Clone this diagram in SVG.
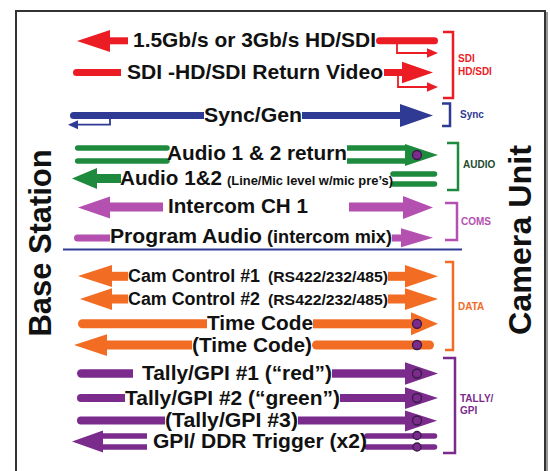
<svg xmlns="http://www.w3.org/2000/svg" width="550" height="471" viewBox="0 0 550 471">
<style>
.t{font-family:"Liberation Sans",Arial,Helvetica,sans-serif;font-weight:bold;fill:#111}
.b{font-size:21px}
.s{font-size:10px}
.v{font-size:31px}
.red{fill:#ec1c24}.redS{stroke:#ec1c24}
.blu{fill:#2e3a94}.bluS{stroke:#2e3a94}
.grn{fill:#1d8a3e}.grnS{stroke:#1d8a3e}
.mag{fill:#b450b0}.magS{stroke:#b450b0}
.org{fill:#f26c24}.orgS{stroke:#f26c24}
.pur{fill:#7a2b8c}.purS{stroke:#7a2b8c}
.thin{fill:none;stroke-width:1.8}
.dbl{fill:none;stroke-width:5.5}
.br{fill:none;stroke-width:2.5}
.dot{fill:#7a2b8c;stroke:#3a1a48;stroke-width:1.3}
</style>
<rect width="550" height="471" fill="#fff"/>
<g id="frame">
<path d="M16,471 V11 H545 V471" fill="none" stroke="#333" stroke-width="2"/>
<line x1="547" y1="12" x2="547" y2="471" stroke="#777" stroke-width="1.5"/>
</g>
<g id="base-station"><text class="t v" transform="translate(51,243) rotate(-90)" text-anchor="middle" textLength="187" lengthAdjust="spacingAndGlyphs">Base Station</text></g>
<g id="camera-unit"><text class="t v" transform="translate(531,240) rotate(-90)" text-anchor="middle" textLength="190" lengthAdjust="spacingAndGlyphs">Camera Unit</text></g>

<g id="connectors">
 <g id="c-sdi1">
  <polygon class="red" points="77,41 110,30 110,52"/>
  <rect class="red" x="109" y="37.3" width="19" height="7"/>
  <rect class="red" x="376" y="37.3" width="62" height="7" rx="3.5"/>
  <polyline class="thin redS" points="397,44 397,53 428,53"/>
  <polygon class="red" points="438,53 427,48.3 427,57.7"/>
 </g>
 <g id="c-sdi2">
  <path class="red" d="M121,69 H76.5 A3.5,3.5 0 0 0 76.5,76 H121 Z"/>
  <rect class="red" x="384" y="69" width="19" height="7"/>
  <polygon class="red" points="433,72.5 402,61.7 402,83.3"/>
  <polyline class="thin redS" points="398,76 398,87 428,87"/>
  <polygon class="red" points="438,87 427,82.2 427,91.8"/>
 </g>
 <g id="c-sync">
  <path class="blu" d="M204,112 H73.5 A3.5,3.5 0 0 0 73.5,119 H204 Z"/>
  <polyline class="thin bluS" points="110,119 110,124.6 77,124.6"/>
  <polygon class="blu" points="68,124.8 78,120.3 78,129.3"/>
  <rect class="blu" x="302" y="112" width="99" height="7"/>
  <polygon class="blu" points="433,115.5 400,104 400,127"/>
 </g>
 <g id="c-audio1">
  <line class="dbl grnS" x1="77.7" y1="148" x2="167" y2="148" stroke-linecap="round"/>
  <line class="dbl grnS" x1="77.7" y1="161" x2="167" y2="161" stroke-linecap="round"/>
  <line class="dbl grnS" x1="347" y1="148" x2="407" y2="148"/>
  <line class="dbl grnS" x1="347" y1="161" x2="407" y2="161"/>
  <polygon class="grn" points="438,155 405,144 405,166"/>
  <circle class="dot" cx="417" cy="155" r="4.5"/>
 </g>
 <g id="c-audio2">
  <polygon class="grn" points="72,178.5 97,168 97,189"/>
  <rect class="grn" x="96" y="174" width="25" height="9"/>
  <line class="dbl grnS" x1="393" y1="174" x2="434.5" y2="174" stroke-width="5" stroke-linecap="round"/>
  <line class="dbl grnS" x1="393" y1="184" x2="434.5" y2="184" stroke-width="5" stroke-linecap="round"/>
 </g>
 <g id="c-intercom">
  <polygon class="mag" points="78,207.5 110,196.5 110,218.5"/>
  <rect class="mag" x="109" y="202.5" width="54" height="9"/>
  <rect class="mag" x="349" y="202.5" width="55" height="9"/>
  <polygon class="mag" points="433,207.5 403,196 403,219"/>
 </g>
 <g id="c-program">
  <path class="mag" d="M110,234.5 H77.5 A3.5,3.5 0 0 0 77.5,241.5 H110 Z"/>
  <rect class="mag" x="392" y="234.5" width="10" height="7"/>
  <polygon class="mag" points="433,237.8 401,228.3 401,247.3"/>
 </g>
 <line id="divider" x1="63" y1="249.5" x2="462" y2="249.5" stroke="#2e3a94" stroke-width="2"/>
 <g id="c-cam1">
  <polygon class="org" points="78,276 112,265 112,287"/>
  <rect class="org" x="111" y="271.8" width="17" height="9"/>
  <rect class="org" x="388" y="271.8" width="18" height="9"/>
  <polygon class="org" points="438,276.3 405,265 405,287.5"/>
 </g>
 <g id="c-cam2">
  <polygon class="org" points="80,299 112,288.3 112,310"/>
  <rect class="org" x="111" y="294.5" width="17" height="9"/>
  <rect class="org" x="388" y="294.5" width="18" height="9"/>
  <polygon class="org" points="438,299 405,288.3 405,310"/>
 </g>
 <g id="c-tc1">
  <path class="org" d="M207,319.3 H82.5 A4.5,4.5 0 0 0 82.5,328.3 H207 Z"/>
  <rect class="org" x="313" y="319.3" width="100" height="9"/>
  <polygon class="org" points="438,323.8 411,312.3 411,335.3"/>
  <circle class="dot" cx="417" cy="323.8" r="4.5"/>
 </g>
 <g id="c-tc2">
  <polygon class="org" points="74,345 107,334.3 107,356"/>
  <rect class="org" x="106" y="340.5" width="86" height="9"/>
  <rect class="org" x="312" y="340.5" width="122" height="9" rx="4.5"/>
  <circle class="dot" cx="417" cy="345" r="4.5"/>
 </g>
 <g id="c-tally1">
  <path class="pur" d="M133,369.3 H81.2 A4.2,4.2 0 0 0 81.2,377.7 H133 Z"/>
  <rect class="pur" x="332" y="369.3" width="75" height="8.4"/>
  <polygon class="pur" points="438,373.5 405,362.3 405,384.7"/>
  <circle class="dot" cx="417" cy="373.5" r="4.5"/>
 </g>
 <g id="c-tally2">
  <path class="pur" d="M125,394 H81 A4,4 0 0 0 81,402 H125 Z"/>
  <rect class="pur" x="340" y="394" width="67" height="8"/>
  <polygon class="pur" points="438,398 405,387.3 405,409"/>
  <circle class="dot" cx="417" cy="398" r="4.5"/>
 </g>
 <g id="c-tally3">
  <path class="pur" d="M165,416.5 H81 A4,4 0 0 0 81,424.5 H165 Z"/>
  <rect class="pur" x="298" y="416.5" width="109" height="8"/>
  <polygon class="pur" points="437,420.8 405,410.5 405,431.5"/>
  <circle class="dot" cx="417" cy="420.5" r="4.5"/>
 </g>
 <g id="c-gpi">
  <polygon class="pur" points="72,441.5 103,430.5 103,452.5"/>
  <line class="dbl purS" x1="102" y1="436" x2="147" y2="436" stroke-width="5"/>
  <line class="dbl purS" x1="102" y1="447" x2="147" y2="447" stroke-width="5"/>
  <line class="dbl purS" x1="367" y1="436" x2="434.5" y2="436" stroke-width="5" stroke-linecap="round"/>
  <line class="dbl purS" x1="367" y1="447" x2="434.5" y2="447" stroke-width="5" stroke-linecap="round"/>
  <circle class="dot" cx="417" cy="435.5" r="4"/>
  <circle class="dot" cx="417" cy="447" r="4"/>
 </g>
</g>

<g id="signals">
 <g id="n-sdi1"><text class="t b" x="133" y="47" textLength="243" lengthAdjust="spacingAndGlyphs">1.5Gb/s or 3Gb/s HD/SDI</text></g>
 <g id="n-sdi2"><text class="t b" x="127" y="78.5" textLength="256" lengthAdjust="spacingAndGlyphs">SDI -HD/SDI Return Video</text></g>
 <g id="n-sync"><text class="t b" x="204" y="121.5" textLength="98" lengthAdjust="spacingAndGlyphs">Sync/Gen</text></g>
 <g id="n-audio1"><text class="t b" x="167" y="159.5" textLength="180" lengthAdjust="spacingAndGlyphs">Audio 1 &amp; 2 return</text></g>
 <g id="n-audio2"><text class="t b" x="120" y="185" textLength="102" lengthAdjust="spacingAndGlyphs">Audio 1&amp;2</text><text class="t" style="font-size:12.5px" x="227" y="185" textLength="166" lengthAdjust="spacingAndGlyphs">(Line/Mic level w/mic pre’s)</text></g>
 <g id="n-intercom"><text class="t b" x="168" y="213" textLength="140" lengthAdjust="spacingAndGlyphs">Intercom CH 1</text></g>
 <g id="n-program"><text class="t b" x="110" y="243" textLength="152" lengthAdjust="spacingAndGlyphs">Program Audio</text><text class="t" style="font-size:18px" x="267" y="243" textLength="125" lengthAdjust="spacingAndGlyphs">(intercom mix)</text></g>
 <g id="n-cam1"><text class="t" style="font-size:17.5px" x="128" y="282" textLength="132" lengthAdjust="spacingAndGlyphs">Cam Control #1</text><text class="t" style="font-size:14.5px" x="268" y="282" textLength="120" lengthAdjust="spacingAndGlyphs">(RS422/232/485)</text></g>
 <g id="n-cam2"><text class="t" style="font-size:17.5px" x="128" y="305" textLength="132" lengthAdjust="spacingAndGlyphs">Cam Control #2</text><text class="t" style="font-size:14.5px" x="268" y="305" textLength="120" lengthAdjust="spacingAndGlyphs">(RS422/232/485)</text></g>
 <g id="n-tc1"><text class="t b" x="207" y="330" textLength="106" lengthAdjust="spacingAndGlyphs">Time Code</text></g>
 <g id="n-tc2"><text class="t b" x="192" y="352" textLength="120" lengthAdjust="spacingAndGlyphs">(Time Code)</text></g>
 <g id="n-tally1"><text class="t b" x="142" y="380" textLength="190" lengthAdjust="spacingAndGlyphs">Tally/GPI #1 (“red”)</text></g>
 <g id="n-tally2"><text class="t b" x="125" y="405" textLength="215" lengthAdjust="spacingAndGlyphs">Tally/GPI #2 (“green”)</text></g>
 <g id="n-tally3"><text class="t b" x="165" y="427" textLength="133" lengthAdjust="spacingAndGlyphs">(Tally/GPI #3)</text></g>
 <g id="n-gpi"><text class="t b" x="153" y="448" textLength="214" lengthAdjust="spacingAndGlyphs">GPI/ DDR Trigger (x2)</text></g>
</g>

<g id="groups">
 <g id="g-sdi"><polyline class="br redS" points="443,32 453,32 453,98 443,98"/>
  <text class="t s" x="458" y="61.5" style="fill:#ec1c24">SDI</text><text class="t s" x="458" y="75" style="fill:#ec1c24">HD/SDI</text></g>
 <g id="g-sync"><polyline class="br bluS" points="442,103.5 450,103.5 450,126 442,126"/>
  <text class="t s" x="460" y="117.5" style="fill:#2e3a94">Sync</text></g>
 <g id="g-audio"><polyline class="br grnS" points="447,143 458,143 458,190 447,190"/>
  <text class="t s" x="463" y="168" style="fill:#244a2c">AUDIO</text></g>
 <g id="g-coms"><polyline class="br magS" points="445,203 457,203 457,240 445,240"/>
  <text class="t s" x="461" y="225" style="fill:#b450b0">COMS</text></g>
 <g id="g-data"><polyline class="br orgS" points="445,262 453,262 453,350 445,350"/>
  <text class="t s" x="458" y="310" style="fill:#f26c24">DATA</text></g>
 <g id="g-tally"><polyline class="br purS" points="443,358 455,358 455,453 443,453"/>
  <text class="t s" x="460" y="401.5" style="fill:#7a2b8c">TALLY/</text><text class="t s" x="460" y="413.5" style="fill:#7a2b8c">GPI</text></g>
</g>
</svg>
